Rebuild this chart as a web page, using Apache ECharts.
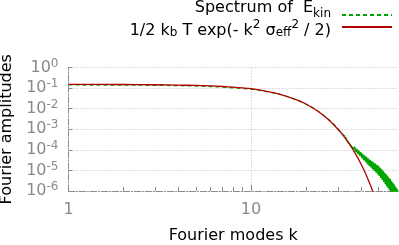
<!DOCTYPE html>
<html>
<head>
<meta charset="utf-8">
<script src="https://cdn.jsdelivr.net/npm/echarts@6/dist/echarts.min.js"></script>
<style>
html,body{margin:0;padding:0;background:#fff;}
#chart{width:399px;height:245px;}
</style>
</head>
<body>
<div id="chart"></div>
<script>
// ---- data ----
const seriesNames = ['Spectrum of  E_kin', '1/2 k_b T exp(- k^2 sigma_eff^2 / 2)'];

// model curve (red)
const redK = [1,2,3,4,5,6,7,8,9,10,12,14,16,18,20,22,24,26,28,30,32,34,36,38,40,42,44,46,48];
const redV = [0.1514,0.1493,0.1455,0.1406,0.1340,0.1271,0.1191,0.1107,0.1019,0.0933,
              0.0711,0.0531,0.0378,0.0258,0.0168,0.01045,0.00622,0.00354,0.00192,0.001,
              5.07e-4,2.46e-4,1.14e-4,5.07e-5,2.16e-5,8.79e-6,3.42e-6,1.28e-6,4.55e-7];

// measured spectrum (green), smooth low-k part
const greenK = [1,2,3,4,5,6,7,8,9,10,12,14,16,18,20,22,24,26,28,30,32,33];
const greenV = [0.1413,0.1393,0.1358,0.1312,0.1250,0.1186,0.1112,0.1033,0.0955,0.0881,
                0.0692,0.0525,0.0380,0.0257,0.0168,0.0106,0.00638,0.00363,0.0020,0.00105,
                5.6e-4,4.37e-4];

// measured spectrum (green), noisy high-k tail
const tailK = [33,33.5,34,34.5,35,35.5,36,36.5,37,37.5,38,38.5,39,39.5,40,40.5,41,41.5,42,42.5,
               43,43.5,44,44.5,45,45.5,46,46.5,47,47.5,48,48.5,49,49.5,50,50.5,51,51.5,52,52.5,
               53,53.5,54,54.5,55,55.5,56,56.5,57,57.5,58,58.5,59,59.5,60,60.5,61,61.5,62,62.5,
               63,63.5,64];
const tailV = [4.37e-4,2.95e-4,3.24e-4,2.09e-4,2.43e-4,1.51e-4,1.82e-4,1.10e-4,1.41e-4,8.13e-5,
               1.13e-4,6.43e-5,9.38e-5,5.08e-5,7.76e-5,4.03e-5,6.46e-5,3.20e-5,5.37e-5,2.57e-5,
               4.57e-5,2.04e-5,3.80e-5,1.66e-5,3.27e-5,1.38e-5,2.82e-5,1.14e-5,2.45e-5,9.44e-6,
               2.14e-5,7.94e-6,1.88e-5,6.61e-6,1.66e-5,5.43e-6,1.38e-5,4.32e-6,1.15e-5,3.43e-6,
               9.55e-6,2.72e-6,7.94e-6,2.16e-6,6.61e-6,1.72e-6,5.50e-6,1.36e-6,4.57e-6,1.08e-6,
               3.80e-6,8.61e-7,3.09e-6,7.0e-7,2.51e-6,5.69e-7,2.04e-6,4.62e-7,1.66e-6,3.76e-7,
               1.35e-6,3.05e-7,1.10e-6];

// axes
const xMin = 1, xMax = 64;
const xMajorTicks = [1, 10];
const xMinorTicks = [2,3,4,5,6,7,8,9,20,30,40,50,60];
const yTicks = [1e-6,1e-5,1e-4,1e-3,1e-2,1e-1,1];
const yTickExponents = ['-6','-5','-4','-3','-2','-1','0'];
const xTitle = 'Fourier modes k';
const yTitle = 'Fourier amplitudes';

// ---- chart ----
const FONT = 'DejaVu Sans';
const GREEN = '#00a400';
const RED = '#b00000';
const GRAY = '#8a8a8a';

const supRich = {
  b: {fontSize: 16, lineHeight: 20, fontFamily: FONT, color: GRAY},
  sup: {fontSize: 12, lineHeight: 12, fontFamily: FONT, color: GRAY, verticalAlign: 'top'}
};
// row 1: text sits above its sample line
const legRich1 = {
  sp: {fontSize: 1, lineHeight: 30, width: 0, verticalAlign: 'top'},
  t: {fontSize: 16, lineHeight: 20, fontFamily: FONT, color: '#000', verticalAlign: 'top'},
  sub: {fontSize: 12, lineHeight: 12, fontFamily: FONT, color: '#000', verticalAlign: 'top', padding: [8, 0, 0, 0]}
};
// row 2: text slightly below its sample line
const legRich2 = {
  sp: {fontSize: 1, lineHeight: 24, width: 0, verticalAlign: 'top'},
  t: {fontSize: 16, lineHeight: 20, fontFamily: FONT, color: '#000', verticalAlign: 'bottom'},
  sub: {fontSize: 12, lineHeight: 12, fontFamily: FONT, color: '#000', verticalAlign: 'bottom'},
  sup: {fontSize: 12, lineHeight: 12, fontFamily: FONT, color: '#000', verticalAlign: 'top', padding: [4, 0, 0, 0]}
};

const chart = echarts.init(document.getElementById('chart'), null, {renderer: 'canvas'});

const option = {
  animation: false,
  backgroundColor: '#fff',
  grid: {left: 68.5, right: 1, top: 67.5, bottom: 54, containLabel: false, outerBoundsMode: 'none'},
  legend: [
    {
      data: [seriesNames[0]], right: 6, top: 0, orient: 'vertical', align: 'right',
      itemWidth: 50, itemHeight: 12, padding: 0, selectedMode: false,
      itemStyle: {opacity: 0},
      textStyle: {rich: legRich1, padding: [0, 6, 0, 0]},
      formatter: () => '{sp| }{t|Spectrum of  E}{sub|kin}'
    },
    {
      data: [seriesNames[1]], right: 6, top: 15, orient: 'vertical', align: 'right',
      itemWidth: 50, itemHeight: 12, padding: 0, selectedMode: false,
      itemStyle: {opacity: 0},
      textStyle: {rich: legRich2, padding: [0, 6, 0, 0]},
      formatter: () => '{sp| }{t|1/2 k}{sub|b}{t| T exp(- k}{sup|2}{t| σ}{sub|eff}{sup|2}{t| / 2)}'
    }
  ],
  xAxis: [
    {
      type: 'log', logBase: 10, min: xMin, max: xMax, gridIndex: 0,
      name: xTitle, nameLocation: 'middle', nameGap: 37,
      nameTextStyle: {fontFamily: FONT, fontSize: 16, color: '#000'},
      axisLine: {show: true, lineStyle: {color: GRAY, width: 1, type: [6, 2, 1, 2]}},
      axisTick: {show: true, inside: true, length: 6, customValues: xMajorTicks, lineStyle: {color: GRAY}},
      axisLabel: {customValues: xMajorTicks, margin: 11, fontFamily: FONT, fontSize: 16, color: GRAY,
                  formatter: v => String(Math.round(v))},
      splitLine: {show: true, lineStyle: {color: '#bdbdbd', type: [1, 2], width: 1}},
      minorTick: {show: false}
    },
    {
      type: 'log', logBase: 10, min: xMin, max: xMax, gridIndex: 0, position: 'bottom',
      axisLine: {show: false},
      axisTick: {show: true, inside: true, length: 4, customValues: xMinorTicks, lineStyle: {color: GRAY}},
      axisLabel: {show: false},
      splitLine: {show: false}
    }
  ],
  yAxis: {
    type: 'log', logBase: 10, min: 1e-6, max: 1,
    name: yTitle, nameLocation: 'middle', nameGap: 52,
    nameTextStyle: {fontFamily: FONT, fontSize: 16, color: '#000'},
    axisLine: {show: true, lineStyle: {color: GRAY, width: 1, type: [6, 2, 1, 2]}},
    axisTick: {show: true, inside: true, length: 4, customValues: yTicks, lineStyle: {color: GRAY}},
    axisLabel: {
      customValues: yTicks, margin: 10, rich: supRich,
      formatter: v => {
        const i = yTicks.findIndex(t => Math.abs(Math.log10(t) - Math.log10(v)) < 1e-6);
        return '{b|10}{sup|' + (i >= 0 ? yTickExponents[i] : '') + '}';
      }
    },
    splitLine: {show: true, lineStyle: {color: '#bdbdbd', type: [1, 2], width: 1}}
  },
  series: [
    {
      name: seriesNames[0], type: 'line', xAxisIndex: 0, symbol: 'none', clip: true,
      data: greenK.map((k, i) => [k, greenV[i]]),
      lineStyle: {color: GREEN, width: 1.2, type: [4, 3]},
      itemStyle: {color: GREEN}, z: 3
    },
    {
      name: 'tail', type: 'line', xAxisIndex: 0, symbol: 'none', clip: true,
      data: tailK.map((k, i) => [k, tailV[i]]),
      lineStyle: {color: GREEN, width: 1.5},
      itemStyle: {color: GREEN}, z: 3
    },
    {
      name: seriesNames[1], type: 'line', xAxisIndex: 0, symbol: 'none', clip: true, smooth: 0.3,
      data: redK.map((k, i) => [k, redV[i]]),
      lineStyle: {color: RED, width: 1.3},
      itemStyle: {color: RED}, z: 4
    }
  ]
};
chart.setOption(option);
</script>
</body>
</html>
